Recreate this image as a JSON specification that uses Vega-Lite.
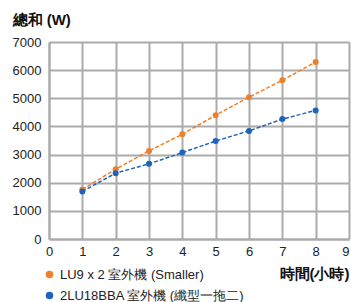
{
  "$schema": "https://vega.github.io/schema/vega-lite/v6.json",
  "width": 300,
  "height": 197,
  "autosize": "none",
  "padding": {"left": 49, "top": 42, "right": 2, "bottom": 63},
  "background": "white",
  "config": {
    "font": "Liberation Sans",
    "view": {"stroke": null}
  },
  "data": {
    "values": [
      {"x": 1, "y": 1760, "s": "LU9 x 2 室外機 (Smaller)"},
      {"x": 2, "y": 2480, "s": "LU9 x 2 室外機 (Smaller)"},
      {"x": 3, "y": 3130, "s": "LU9 x 2 室外機 (Smaller)"},
      {"x": 4, "y": 3720, "s": "LU9 x 2 室外機 (Smaller)"},
      {"x": 5, "y": 4400, "s": "LU9 x 2 室外機 (Smaller)"},
      {"x": 6, "y": 5040, "s": "LU9 x 2 室外機 (Smaller)"},
      {"x": 7, "y": 5640, "s": "LU9 x 2 室外機 (Smaller)"},
      {"x": 8, "y": 6290, "s": "LU9 x 2 室外機 (Smaller)"},
      {"x": 1, "y": 1690, "s": "2LU18BBA 室外機 (纖型一拖二)"},
      {"x": 2, "y": 2340, "s": "2LU18BBA 室外機 (纖型一拖二)"},
      {"x": 3, "y": 2670, "s": "2LU18BBA 室外機 (纖型一拖二)"},
      {"x": 4, "y": 3070, "s": "2LU18BBA 室外機 (纖型一拖二)"},
      {"x": 5, "y": 3480, "s": "2LU18BBA 室外機 (纖型一拖二)"},
      {"x": 6, "y": 3840, "s": "2LU18BBA 室外機 (纖型一拖二)"},
      {"x": 7, "y": 4260, "s": "2LU18BBA 室外機 (纖型一拖二)"},
      {"x": 8, "y": 4570, "s": "2LU18BBA 室外機 (纖型一拖二)"}
    ]
  },
  "encoding": {
    "x": {
      "field": "x", "type": "quantitative",
      "scale": {"domain": [0, 9], "nice": false, "zero": true},
      "axis": {
        "values": [0,1,2,3,4,5,6,7,8,9],
        "labelOverlap": false, "labelFlush": false, "format": "d",
        "labelAlign": {"condition": {"test": "datum.value == 9", "value": "right"}, "value": "center"},
        "grid": true, "gridColor": "#ababab", "gridWidth": 2,
        "domainColor": "#ababab", "domainWidth": 2,
        "ticks": false, "labelPadding": 6,
        "labelFontSize": 13, "labelColor": "#222",
        "title": "時間(小時)", "titleFontSize": 15, "titleFontWeight": "bold",
        "titleColor": "#111", "titleAlign": "right", "titleAnchor": null,
        "titleX": 300, "titleY": 34, "titleBaseline": "middle"
      }
    },
    "y": {
      "field": "y", "type": "quantitative",
      "scale": {"domain": [0, 7000], "nice": false},
      "axis": {
        "values": [0,1000,2000,3000,4000,5000,6000,7000],
        "labelOverlap": false, "format": "d",
        "grid": true, "gridColor": "#ababab", "gridWidth": 2,
        "domainColor": "#ababab", "domainWidth": 2,
        "ticks": false, "labelPadding": 8,
        "labelFontSize": 13, "labelColor": "#222",
        "title": "總和 (W)", "titleFontSize": 15, "titleFontWeight": "bold",
        "titleColor": "#111", "titleAngle": 0, "titleAlign": "left",
        "titleAnchor": null, "titleX": -37, "titleY": -18,
        "titleBaseline": "alphabetic"
      }
    },
    "color": {
      "field": "s", "type": "nominal",
      "sort": ["LU9 x 2 室外機 (Smaller)", "2LU18BBA 室外機 (纖型一拖二)"],
      "scale": {"range": ["#F07F2A", "#1E63BE"]},
      "legend": {
        "orient": "none", "legendX": -6, "legendY": 226,
        "title": null, "symbolType": "circle", "symbolSize": 36,
        "labelFontSize": 13, "labelColor": "#222", "rowPadding": 7,
        "labelOffset": 4, "padding": 0, "labelLimit": 400
      }
    }
  },
  "layer": [
    {"mark": {"type": "line", "strokeDash": [4, 2], "strokeWidth": 1.5}},
    {"mark": {"type": "point", "filled": true, "size": 36, "opacity": 1}}
  ]
}
